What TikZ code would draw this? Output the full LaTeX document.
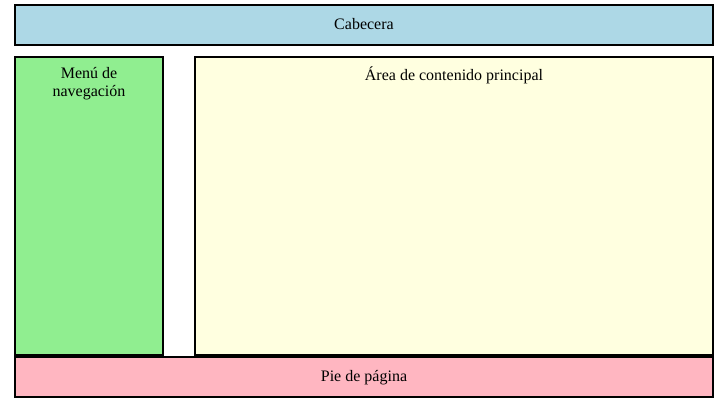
\documentclass[tikz,border=0pt]{standalone}
\usepackage{fontspec}
\setmainfont{Liberation Serif}
\definecolor{hdrblue}{RGB}{173,216,230}
\definecolor{navgreen}{RGB}{144,238,144}
\definecolor{mainyellow}{RGB}{255,255,224}
\definecolor{footpink}{RGB}{255,182,193}
\begin{document}
\begin{tikzpicture}[x=1pt,y=-1pt,
  panel/.style={draw=black,line width=2pt,inner sep=0pt,outer sep=0pt},
  lbl/.style={font=\fontsize{16}{18}\selectfont,inner sep=0pt,anchor=base,align=center}]
\useasboundingbox[fill=white] (0,0) rectangle (724,403);
\node[panel,fill=hdrblue,minimum width=698pt,minimum height=40pt] (header) at (364,25) {};
\node[panel,fill=navgreen,minimum width=148pt,minimum height=298pt] (nav) at (89,206) {};
\node[panel,fill=mainyellow,minimum width=518pt,minimum height=298pt] (main) at (454,206) {};
\node[panel,fill=footpink,minimum width=698pt,minimum height=40pt] (footer) at (364,377) {};
\node[lbl] (htext) at (364,30) {Cabecera};
\node[lbl,anchor=north] (ntext) at (89,67.5) {Menú de\\navegación};
\node[lbl] (mtext) at (454,81) {Área de contenido principal};
\node[lbl] (ftext) at (364,382) {Pie de página};
\end{tikzpicture}
\end{document}
